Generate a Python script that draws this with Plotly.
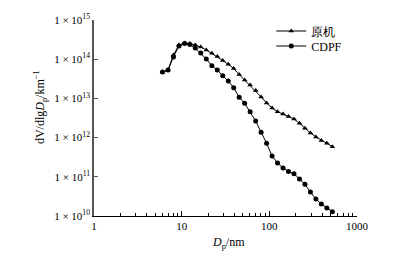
import plotly.graph_objects as go

# Particle diameter channels (nm)
dp = [6.04, 6.98, 8.06, 9.31, 10.8, 12.4, 14.3, 16.5, 19.1, 22.1, 25.5, 29.4,
      34.0, 39.2, 45.3, 52.3, 60.4, 69.8, 80.6, 93.1, 107.5, 124.1, 143.3,
      165.5, 191.1, 220.7, 254.8, 294.3, 339.8, 392.4, 453.2, 523.3]

# 原机 (original engine)
yuanji = [4.7e13, 5.3e13, 1.28e14, 2.3e14, 2.59e14, 2.52e14, 2.30e14, 2.05e14,
          1.72e14, 1.41e14, 1.17e14, 9.27e13, 7.41e13, 5.79e13, 4.07e13, 2.95e13,
          2.20e13, 1.59e13, 1.09e13, 7.63e12, 5.69e12, 4.58e12, 4.00e12, 3.45e12,
          2.98e12, 2.32e12, 1.73e12, 1.31e12, 1.04e12, 8.43e11, 7.16e11, 5.86e11]

# CDPF
cdpf = [4.7e13, 5.3e13, 1.14e14, 2.17e14, 2.5e14, 2.37e14, 1.93e14, 1.44e14,
        1.01e14, 6.83e13, 5.3e13, 3.79e13, 2.78e13, 1.87e13, 1.07e13, 7.5e12,
        4.58e12, 2.65e12, 1.37e12, 7.16e11, 3.39e11, 2.25e11, 1.68e11, 1.37e11,
        1.2e11, 8.79e10, 6.44e10, 4.1e10, 2.71e10, 2.02e10, 1.6e10, 1.29e10]

y_tickvals = [1e10, 1e11, 1e12, 1e13, 1e14, 1e15]
y_ticktext = ["1 × 10<sup>10</sup>", "1 × 10<sup>11</sup>", "1 × 10<sup>12</sup>",
              "1 × 10<sup>13</sup>", "1 × 10<sup>14</sup>", "1 × 10<sup>15</sup>"]
x_tickvals = [1, 10, 100, 1000]
x_ticktext = ["1", "10", "100", "1000"]
x_minor = [2, 3, 4, 5, 6, 7, 8, 9, 20, 30, 40, 50, 60, 70, 80, 90,
           200, 300, 400, 500, 600, 700, 800, 900]

FONT = "Liberation Serif"

fig = go.Figure()
fig.add_trace(go.Scatter(
    x=dp, y=yuanji, mode="lines+markers", name="原机", legend="legend",
    line=dict(color="black", width=1),
    marker=dict(symbol="triangle-up", size=5, color="black")))
fig.add_trace(go.Scatter(
    x=dp, y=cdpf, mode="lines+markers", name="CDPF", legend="legend2",
    line=dict(color="black", width=1),
    marker=dict(symbol="circle", size=5, color="black")))

leg_common = dict(xanchor="left", yanchor="middle", bgcolor="rgba(0,0,0,0)",
                  font=dict(family=FONT, size=12), itemwidth=30,
                  borderwidth=0)

fig.update_layout(
    width=395, height=253,
    margin=dict(l=94, r=38, t=20, b=37),
    paper_bgcolor="white", plot_bgcolor="white",
    font=dict(family=FONT, size=11, color="black"),
    showlegend=True,
    legend=dict(x=0.674, y=1 - (31 - 20) / 196, **leg_common),
    legend2=dict(x=0.674, y=1 - (46 - 20) / 196, **leg_common),
    xaxis=dict(type="log", range=[0, 3], showgrid=False, zeroline=False,
               showline=True, linecolor="black", linewidth=1.2,
               tickvals=x_tickvals, ticktext=x_ticktext,
               ticks="inside", ticklen=5, tickcolor="black",
               minor=dict(tickvals=x_minor, ticks="inside", ticklen=3,
                          tickcolor="black"),
               tickfont=dict(family=FONT, size=11)),
    yaxis=dict(type="log", range=[10, 15], showgrid=False, zeroline=False,
               showline=True, linecolor="#555555", linewidth=1.5,
               tickvals=y_tickvals, ticktext=y_ticktext,
               ticks="inside", ticklen=4, tickcolor="#555555",
               tickfont=dict(family=FONT, size=11)),
    annotations=[
        dict(text="dV/dlg<i>D</i><sub>p</sub>/km<sup>−1</sup>",
             xref="paper", yref="paper", x=-0.205, y=0.556,
             xanchor="center", yanchor="middle", textangle=-90,
             showarrow=False, font=dict(family=FONT, size=12)),
        dict(text="<i>D</i><sub>p</sub>/nm",
             xref="paper", yref="paper", x=0.51, y=-0.138,
             xanchor="center", yanchor="middle",
             showarrow=False, font=dict(family=FONT, size=12)),
    ],
)

fig.write_html("out.html",
               config={"displayModeBar": False},
               post_script="document.body.style.margin='0';")
